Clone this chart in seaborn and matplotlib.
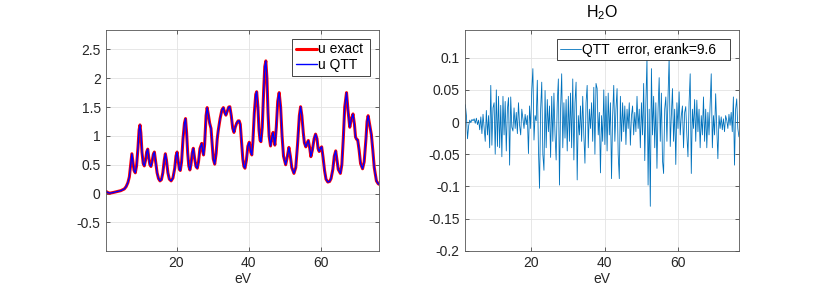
import numpy as np
import pandas as pd
import matplotlib
matplotlib.use("Agg")
import matplotlib.pyplot as plt
import seaborn as sns

# ---------------- data ----------------
ev_spec = [0.5, 1.0, 1.5, 2.5, 3.5, 4.5, 5.5, 6.0, 6.5, 6.9, 7.3, 7.6, 7.9, 8.2, 8.55, 8.9,
           9.3, 9.6, 9.85, 10.1, 10.4, 10.75, 11.05, 11.4, 11.7, 12.0, 12.3, 12.6, 12.9, 13.2,
           13.55, 13.85, 14.2, 14.6, 15.0, 15.4, 15.8, 16.2, 16.6, 16.9, 17.2, 17.6, 18.0, 18.5,
           19.0, 19.5, 19.85, 20.15, 20.5, 20.8, 21.05, 21.4, 21.8, 22.2, 22.5, 22.8, 23.1, 23.4,
           23.7, 24.0, 24.35, 24.66, 25.0, 25.4, 25.77, 26.1, 26.5, 27.0, 27.3, 27.5, 27.8, 28.2,
           28.5, 28.8, 29.2, 29.57, 29.9, 30.2, 30.6, 31.0, 31.3, 31.6, 32.1, 32.6, 33.0, 33.4,
           33.7, 34.1, 34.5, 34.8, 35.2, 35.6, 35.95, 36.3, 36.7, 37.1, 37.4, 37.7, 38.0, 38.4,
           38.7, 39.0, 39.4, 39.8, 40.2, 40.6, 40.9, 41.2, 41.6, 42.0, 42.25, 42.6, 42.9, 43.2,
           43.44, 43.8, 44.2, 44.5, 44.8, 45.1, 45.4, 45.7, 46.1, 46.5, 46.8, 47.05, 47.3, 47.7,
           48.1, 48.5, 48.9, 49.3, 49.7, 50.3, 50.7, 51.2, 51.6, 52.0, 52.6, 53.1, 53.6, 54.1,
           54.45, 54.8, 55.2, 55.5, 55.9, 56.3, 56.6, 57.0, 57.3, 57.7, 58.2, 58.6, 59.0, 59.3,
           59.6, 60.0, 60.3, 60.7, 61.1, 61.5, 62.0, 62.5, 62.9, 63.4, 63.8, 64.2, 64.5, 64.9,
           65.5, 65.9, 66.3, 66.7, 67.2, 67.6, 68.1, 68.5, 69.0, 69.4, 69.7, 70.0, 70.3, 70.7,
           71.1, 71.65, 72.1, 72.6, 72.9, 73.2, 73.6, 74.1, 74.5, 74.9, 75.5, 76.0, 76.3]
u_exact = [0.035, 0.015, 0.007, 0.02, 0.035, 0.05, 0.08, 0.12, 0.19, 0.29, 0.52, 0.69, 0.55, 0.40, 0.36, 0.48,
           0.80, 1.10, 1.19, 1.05, 0.72, 0.52, 0.48, 0.58, 0.72, 0.77, 0.62, 0.50, 0.47, 0.55,
           0.68, 0.72, 0.55, 0.36, 0.26, 0.22, 0.24, 0.36, 0.58, 0.69, 0.58, 0.36, 0.25, 0.22,
           0.27, 0.44, 0.65, 0.72, 0.55, 0.42, 0.40, 0.55, 0.95, 1.22, 1.30, 1.05, 0.70, 0.48,
           0.41, 0.50, 0.70, 0.785, 0.62, 0.47, 0.44, 0.55, 0.78, 0.87, 0.72, 0.67, 0.85, 1.35,
           1.49, 1.38, 1.22, 1.13, 0.85, 0.60, 0.51, 0.70, 0.95, 1.10, 1.30, 1.45, 1.49, 1.40,
           1.36, 1.43, 1.50, 1.505, 1.35, 1.13, 1.06, 1.15, 1.22, 1.26, 1.26, 1.20, 0.95, 0.60,
           0.47, 0.44, 0.58, 0.82, 0.89, 0.72, 0.67, 0.90, 1.40, 1.72, 1.765, 1.50, 1.10, 0.92,
           0.90, 1.15, 1.80, 2.20, 2.30, 2.00, 1.40, 1.00, 0.825, 0.98, 1.06, 0.95, 0.84, 1.15,
           1.60, 1.75, 1.50, 1.00, 0.65, 0.50, 0.62, 0.80, 0.65, 0.45, 0.35, 0.45, 0.85, 1.35,
           1.505, 1.35, 1.05, 0.88, 0.81, 0.88, 0.92, 0.78, 0.64, 0.75, 0.95, 1.03, 0.95, 0.78,
           0.73, 0.79, 0.81, 0.62, 0.40, 0.25, 0.20, 0.21, 0.26, 0.42, 0.65, 0.74, 0.60, 0.42,
           0.35, 0.50, 0.95, 1.50, 1.75, 1.45, 1.15, 1.28, 1.38, 1.20, 0.98, 0.94, 0.93, 0.75,
           0.52, 0.43, 0.55, 0.95, 1.25, 1.35, 1.20, 1.02, 0.75, 0.45, 0.22, 0.17, 0.16]
u_qtt = list(u_exact)

err_start, err_step = 2.3, 0.3
err = [0.027, 0.010, -0.026, -0.006, 0.003, -0.001, 0.004, 0.002, 0.005, -0.002, 0.006, -0.004, 0.003, -0.012, 0.008, -0.018, 0.012, -0.008, -0.030,
       0.018, -0.020, 0.010, -0.040, 0.057, -0.036, 0.022, 0.030, -0.050, 0.050, -0.038, 0.040, -0.040, 0.026, -0.054, 0.040, -0.020, 0.032, -0.045, 0.020,
       0.038, -0.067, 0.039, -0.008, -0.014, 0.022, -0.010, 0.015, -0.018, 0.030, -0.005, -0.020, 0.020, 0.005, -0.010, 0.012, -0.004, 0.010, -0.049, 0.025,
       -0.010, 0.050, 0.083, -0.028, 0.010, 0.002, 0.065, -0.040, -0.103, 0.020, 0.062, -0.050, -0.075, 0.049, -0.040, 0.035, -0.015, 0.025, -0.055, 0.040,
       -0.030, 0.045, -0.020, -0.059, 0.030, 0.067, -0.098, 0.020, 0.075, -0.040, 0.030, -0.025, 0.035, -0.045, 0.040, -0.030, 0.045, -0.040, 0.067, -0.059,
       0.030, 0.062, -0.090, 0.010, -0.020, 0.025, -0.030, 0.040, -0.020, -0.064, 0.030, 0.057, -0.040, 0.020, -0.010, 0.030, -0.030, 0.054, -0.050, 0.060,
       0.052, -0.020, 0.015, -0.079, 0.010, -0.030, 0.050, -0.035, 0.040, -0.045, 0.045, -0.020, 0.030, -0.088, 0.010, 0.057, -0.030, 0.020, 0.052, -0.050,
       -0.088, 0.040, -0.030, 0.030, -0.015, 0.025, -0.035, 0.020, -0.010, 0.030, -0.036, 0.010, 0.025, -0.020, 0.015, -0.015, 0.040, -0.010, 0.020, -0.040,
       0.030, -0.020, 0.060, -0.060, 0.030, 0.100, -0.098, 0.020, -0.131, 0.083, -0.020, 0.040, -0.040, 0.030, -0.072, 0.020, 0.069, -0.030, 0.045, -0.060,
       -0.080, 0.020, 0.039, -0.030, 0.040, 0.100, -0.038, 0.010, 0.052, -0.030, 0.020, -0.066, 0.030, -0.010, 0.047, -0.020, 0.010, 0.025, -0.040, 0.015,
       0.024, -0.020, -0.054, 0.030, 0.075, -0.080, 0.020, -0.010, 0.035, -0.030, 0.034, -0.015, 0.020, -0.040, 0.010, -0.020, 0.039, -0.030, 0.020, -0.040,
       0.015, -0.020, 0.030, 0.075, -0.040, 0.010, -0.020, 0.044, -0.010, -0.057, 0.010, -0.010, 0.008, -0.012, 0.005, -0.015, 0.010, 0.003, -0.010, 0.012,
       -0.005, 0.015, -0.015, 0.039, -0.067, 0.020, 0.036, -0.010, -0.023]
ev_err = [round(err_start + err_step * i, 2) for i in range(len(err))]

left_yticks = [-0.5, 0, 0.5, 1, 1.5, 2, 2.5]
left_yticklabels = ['-0.5', '0', '0.5', '1', '1.5', '2', '2.5']
right_yticks = [-0.2, -0.15, -0.1, -0.05, 0, 0.05, 0.1]
right_yticklabels = ['-0.2', '-0.15', '-0.1', '-0.05', '0', '0.05', '0.1']
xticks = [20, 40, 60]
title_right = 'H$_2$O'
legend_left = ['u exact', 'u QTT']
legend_right = 'QTT  error, erank=9.6'

# ---------------- style ----------------
sns.set_theme(style='white')
plt.rcParams['font.family'] = ['Liberation Sans', 'DejaVu Sans']
plt.rcParams['font.size'] = 10
plt.rcParams['mathtext.fontset'] = 'custom'
plt.rcParams['mathtext.rm'] = 'Liberation Sans'
plt.rcParams['mathtext.it'] = 'Liberation Sans'

W, H = 817, 290
fig = plt.figure(figsize=(W / 100, H / 100), dpi=100)
ax1 = fig.add_axes([106.3 / W, (H - 250.7) / H, 273.0 / W, 220.4 / H])
ax2 = fig.add_axes([465.3 / W, (H - 250.7) / H, 274.0 / W, 220.4 / H])

df_spec = pd.DataFrame({'eV': ev_spec, 'exact': u_exact, 'qtt': u_qtt})
df_err = pd.DataFrame({'eV': ev_err, 'err': err})

sns.lineplot(data=df_spec, x='eV', y='exact', ax=ax1, color='#ff0000', lw=2.2,
             label=legend_left[0], sort=False, estimator=None)
sns.lineplot(data=df_spec, x='eV', y='qtt', ax=ax1, color='#0000ff', lw=1.0,
             label=legend_left[1], sort=False, estimator=None)
sns.lineplot(data=df_err, x='eV', y='err', ax=ax2, color='#0072BD', lw=0.6,
             label=legend_right, sort=False, estimator=None)

ax1.set_xlim(0.5, 76.3)
ax1.set_ylim(-0.99, 2.83)
ax2.set_xlim(2.3, 76.5)
ax2.set_ylim(-0.2, 0.1426)

ax1.set_yticks(left_yticks)
ax1.set_yticklabels(left_yticklabels)
ax2.set_yticks(right_yticks)
ax2.set_yticklabels(right_yticklabels)

for ax in (ax1, ax2):
    ax.set_xticks(xticks)
    ax.set_xticklabels([str(t) for t in xticks])
    ax.set_xlabel('eV', fontsize=10, color='#262626', labelpad=1)
    ax.set_ylabel('')
    ax.grid(True, color='#e3e3e3', lw=0.6)
    ax.set_axisbelow(True)
    for s in ax.spines.values():
        s.set_color('#555555')
        s.set_linewidth(0.6)
        s.set_visible(True)
    ax.tick_params(direction='in', length=3, width=0.5, color='#262626',
                   labelsize=10, labelcolor='#262626', top=True, right=True,
                   bottom=True, left=True, pad=4)

ax2.set_title(title_right, fontsize=11.5, color='#000000', pad=9)

leg_kw = dict(frameon=True, fancybox=False, framealpha=1, edgecolor='#262626',
              fontsize=10, handlelength=1.5, handletextpad=0.1, borderaxespad=0.0,
              borderpad=0.25, labelspacing=0.12, mode='expand', loc='upper left')
leg1 = ax1.legend(bbox_to_anchor=(0.681, 0.5, 0.285, 0.4605), **leg_kw)
leg1.get_frame().set_linewidth(0.6)
leg2 = ax2.legend(bbox_to_anchor=(0.3336, 0.5, 0.6324, 0.459), **leg_kw)
leg2.get_frame().set_linewidth(0.6)
for t in leg1.get_texts() + leg2.get_texts():
    t.set_color('#000000')

fig.savefig('out.png', dpi=100)
